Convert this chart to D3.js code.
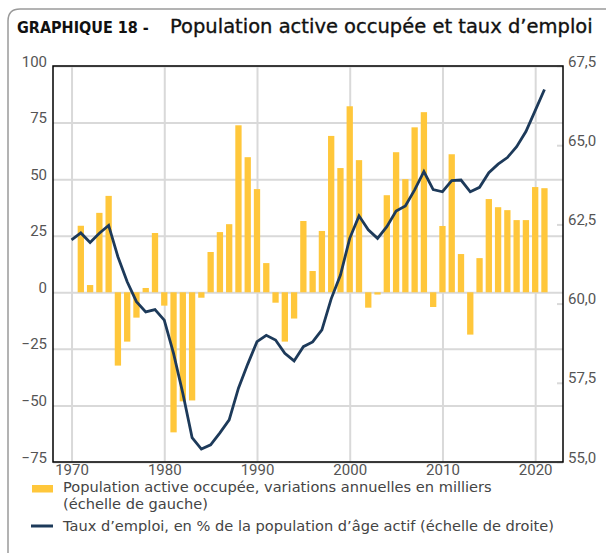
<!DOCTYPE html>
<html>
<head>
<meta charset="utf-8">
<script src="https://cdn.jsdelivr.net/npm/d3@7"></script>
<style>
  body { margin: 0; background: #fff; }
  .tick text { font-family: Roboto, "Liberation Sans", sans-serif; font-size: 15px; fill: #555; }
  .legend-text { font-family: "DejaVu Sans", sans-serif; font-size: 14.6px; fill: #444; }
</style>
</head>
<body>
<script>
// bars: annual change of employed labour force (thousands), left scale
const barYears = [1971, 1972, 1973, 1974, 1975, 1976, 1977, 1978, 1979, 1980,
    1981, 1982, 1983, 1984, 1985, 1986, 1987, 1988, 1989, 1990,
    1991, 1992, 1993, 1994, 1995, 1996, 1997, 1998, 1999, 2000,
    2001, 2002, 2003, 2004, 2005, 2006, 2007, 2008, 2009, 2010,
    2011, 2012, 2013, 2014, 2015, 2016, 2017, 2018, 2019, 2020, 2021];
const barValues = [29.4, 3.2, 35.1, 42.6, -32.4, -21.8, -11.2, 1.9, 26.2, -5.9,
    -61.9, -48.2, -47.8, -2.4, 17.8, 26.6, 30.1, 73.8, 59.7, 45.6,
    12.9, -4.6, -21.8, -11.6, 31.5, 9.4, 27.1, 69.1, 54.9, 82.2,
    58.4, -6.8, -1.0, 42.9, 61.9, 50.0, 72.9, 79.6, -6.5, 29.3,
    61.0, 16.9, -18.7, 15.1, 41.2, 37.6, 36.3, 31.9, 31.9, 46.5, 46.0];

// line: employment rate (%), right scale
const lineYears = [1970, ...barYears];
const lineValues = [62.01, 62.23, 61.93, 62.22, 62.47, 61.48, 60.69, 60.06, 59.74, 59.81,
    59.48, 58.43, 57.17, 55.77, 55.41, 55.54, 55.92, 56.33, 57.33, 58.09,
    58.80, 59.00, 58.85, 58.43, 58.19, 58.64, 58.79, 59.17, 60.15, 60.90,
    62.06, 62.77, 62.33, 62.06, 62.43, 62.92, 63.08, 63.59, 64.17, 63.60,
    63.53, 63.88, 63.90, 63.53, 63.67, 64.13, 64.40, 64.61, 64.95, 65.43,
    66.09, 66.76];

const xTicks = [1970, 1980, 1990, 2000, 2010, 2020];
const leftTicks = [-75, -50, -25, 0, 25, 50, 75, 100];
const rightTicks = [55, 57.5, 60, 62.5, 65, 67.5];

const titleBold = "GRAPHIQUE 18 -";
const titleMain = "Population active occupée et taux d\u2019emploi";
const legendBar = ["Population active occupée, variations annuelles en milliers", "(échelle de gauche)"];
const legendLine = "Taux d\u2019emploi, en % de la population d\u2019âge actif (échelle de droite)";

const W = 606, H = 553;
const plot = { left: 53, right: 563, top: 66, bottom: 462 };

const BAR_COLOR = "#ffc73b";
const LINE_COLOR = "#1d3a5a";
const GRID_COLOR = "#d9d9d9";

const svg = d3.select("body").append("svg")
    .attr("width", W)
    .attr("height", H)
    .style("font-family", "DejaVu Sans, sans-serif");

// outer frame (gray, rounded top-left corner)
svg.append("path")
    .attr("d", `M8,${H} L8,21 Q8,9 20,9 L${W},9`)
    .attr("fill", "none")
    .attr("stroke", "#9a9a9a")
    .attr("stroke-width", 1.5);

// title
const title = svg.append("text")
    .attr("x", 17)
    .attr("y", 33)
    .attr("fill", "#111");
title.append("tspan")
    .style("font-family", "DejaVu Sans Condensed, DejaVu Sans, sans-serif")
    .style("font-weight", "bold")
    .style("font-size", "16px")
    .text(titleBold);
title.append("tspan")
    .attr("x", 170)
    .style("font-family", "DejaVu Sans, sans-serif")
    .style("font-size", "19.5px")
    .attr("stroke", "#111")
    .attr("stroke-width", 0.35)
    .text(titleMain);

// scales
const x = d3.scaleLinear().domain([1968, 2023]).range([plot.left, plot.right]);
const yLeft = d3.scaleLinear().domain([-75, 100]).range([plot.bottom, plot.top]);
const yRight = d3.scaleLinear().domain([55, 67.5]).range([plot.bottom, plot.top]);

const innerW = plot.right - plot.left;
const innerH = plot.bottom - plot.top;

// left axis + horizontal gridlines
const leftAxis = svg.append("g")
    .attr("transform", `translate(${plot.left},0)`)
    .call(d3.axisLeft(yLeft).tickValues(leftTicks).tickSize(-innerW).tickPadding(6).tickFormat(d3.format("d")));
leftAxis.select(".domain").remove();
leftAxis.selectAll(".tick line").attr("stroke", GRID_COLOR).attr("stroke-width", 2);
leftAxis.selectAll(".tick text").attr("dy", "0");

// bottom axis + vertical gridlines
const bottomAxis = svg.append("g")
    .attr("transform", `translate(0,${plot.bottom})`)
    .call(d3.axisBottom(x).tickValues(xTicks).tickSize(-innerH).tickPadding(2).tickFormat(d3.format("d")));
bottomAxis.select(".domain").remove();
bottomAxis.selectAll(".tick line").attr("stroke", GRID_COLOR).attr("stroke-width", 2);

// bars
const barW = 6.3;
svg.append("g")
    .selectAll("rect")
    .data(barYears.map((yr, i) => ({ year: yr, value: barValues[i] })))
    .join("rect")
    .attr("x", d => x(d.year) - barW / 2)
    .attr("y", d => yLeft(Math.max(0, d.value)))
    .attr("width", barW)
    .attr("height", d => Math.abs(yLeft(d.value) - yLeft(0)))
    .attr("fill", BAR_COLOR);

// employment rate line
const line = d3.line()
    .x(d => x(d.year))
    .y(d => yRight(d.value));
svg.append("path")
    .datum(lineYears.map((yr, i) => ({ year: yr, value: lineValues[i] })))
    .attr("d", line)
    .attr("fill", "none")
    .attr("stroke", LINE_COLOR)
    .attr("stroke-width", 2.8)
    .attr("stroke-linejoin", "miter");

// right axis
const rightAxis = svg.append("g")
    .attr("transform", `translate(${plot.right},0)`)
    .call(d3.axisRight(yRight).tickValues(rightTicks).tickSize(-6).tickPadding(5)
        .tickFormat(d => d3.format(".1f")(d).replace(".", ",")));
rightAxis.select(".domain").remove();
rightAxis.selectAll(".tick line").attr("stroke", GRID_COLOR).attr("stroke-width", 2);
rightAxis.selectAll(".tick text").attr("dy", "0");

// plot frame
svg.append("rect")
    .attr("x", plot.left)
    .attr("y", plot.top)
    .attr("width", innerW)
    .attr("height", innerH)
    .attr("fill", "none")
    .attr("stroke", "#000")
    .attr("stroke-width", 1.5);

// legend
const legend = svg.append("g");
legend.append("rect")
    .attr("x", 32).attr("y", 485)
    .attr("width", 21).attr("height", 7.5)
    .attr("fill", BAR_COLOR);
legendBar.forEach((txt, i) => {
    legend.append("text")
        .attr("class", "legend-text")
        .attr("x", 63)
        .attr("y", 492 + i * 17)
        .text(txt);
});
legend.append("line")
    .attr("x1", 31).attr("x2", 53)
    .attr("y1", 526).attr("y2", 526)
    .attr("stroke", LINE_COLOR)
    .attr("stroke-width", 3);
legend.append("text")
    .attr("class", "legend-text")
    .attr("x", 63)
    .attr("y", 531)
    .text(legendLine);
</script>
</body>
</html>
